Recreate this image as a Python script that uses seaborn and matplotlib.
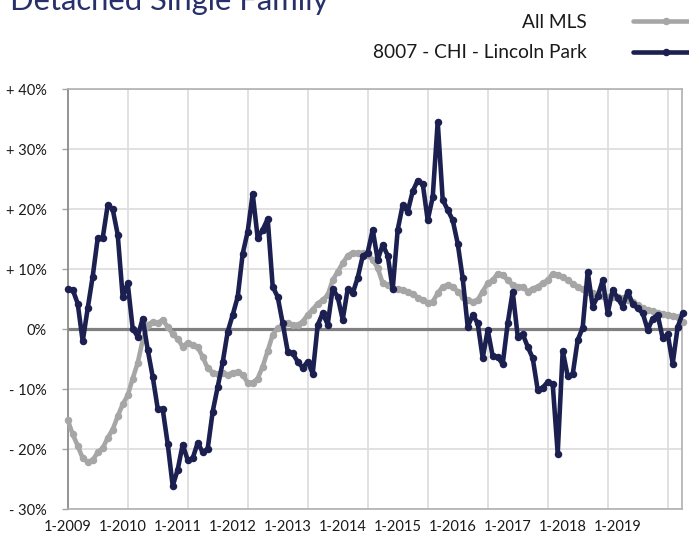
import numpy as np
import pandas as pd
import matplotlib
matplotlib.use("Agg")
import matplotlib.pyplot as plt
import seaborn as sns

# ---------------- data ----------------
title = "Detached Single Family"
series_names = ["All MLS", "8007 - CHI - Lincoln Park"]

all_mls = [
    -15.1, -17.5, -19.4, -21.5, -22.1, -21.8, -20.5, -19.8, -18.1, -16.7, -14.5, -12.5,
    -11.0, -8.2, -5.6, -1.8, 0.8, 1.2, 1.0, 1.6, 0.4, -0.8, -1.6, -2.9,
    -2.2, -2.6, -3.0, -4.6, -6.5, -7.2, -7.5, -7.3, -7.6, -7.2, -7.1, -7.6,
    -8.9, -8.9, -8.2, -6.2, -3.6, -0.9, 0.2, 0.7, 1.0, 0.7, 0.7, 1.3,
    2.4, 3.3, 4.3, 4.9, 5.7, 8.2, 9.6, 11.0, 12.3, 12.8, 12.7, 12.7,
    12.4, 11.6, 10.2, 7.7, 7.4, 6.8, 6.7, 6.6, 6.3, 5.9, 5.3, 4.9,
    4.4, 4.6, 6.0, 7.1, 7.4, 7.1, 6.3, 5.4, 4.9, 4.6, 4.9, 6.3,
    7.7, 8.2, 9.3, 9.1, 8.2, 7.4, 7.1, 7.1, 6.3, 6.8, 7.1, 7.7,
    8.2, 9.3, 9.1, 8.7, 8.2, 7.6, 7.1, 6.7, 6.3, 6.0, 5.7, 5.5,
    5.4, 5.4, 5.4, 5.2, 4.9, 4.5, 4.1, 3.6, 3.2, 3.0, 2.7, 2.6,
    2.4, 2.3, 2.1, 1.2,
]

lincoln_park = [
    6.7, 6.6, 4.3, -2.0, 3.5, 8.8, 15.2, 15.2, 20.7, 20.0, 15.8, 5.4,
    7.7, 0.1, -1.2, 1.8, -3.4, -7.9, -13.2, -13.3, -19.1, -26.1, -23.4, -19.2,
    -21.8, -21.5, -18.9, -20.5, -19.9, -13.7, -9.6, -5.5, -0.4, 2.4, 5.4, 12.6,
    16.3, 22.6, 15.2, 16.6, 18.4, 7.1, 5.4, 1.0, -3.7, -4.0, -5.4, -6.4,
    -5.4, -7.4, 0.7, 2.7, 0.8, 6.8, 5.4, 1.6, 6.7, 6.0, 8.6, 12.2,
    12.8, 16.6, 11.6, 14.1, 12.3, 6.7, 16.6, 20.7, 19.6, 23.0, 24.8, 24.3,
    18.2, 22.0, 34.6, 21.6, 19.9, 18.2, 14.3, 8.5, 0.4, 2.4, 1.0, -4.8,
    -0.1, -4.5, -4.6, -5.8, 1.0, 6.3, -1.2, -0.8, -2.9, -4.8, -10.1, -9.7,
    -8.8, -9.1, -20.7, -3.6, -7.8, -7.5, -1.8, 0.3, 9.6, 3.8, 5.5, 8.2,
    2.7, 6.6, 5.2, 3.8, 6.3, 4.2, 3.5, 2.7, -0.1, 1.8, 2.4, -1.5,
    -0.8, -5.7, 0.4, 2.7,
]

xtick_labels = ["1-2009", "1-2010", "1-2011", "1-2012", "1-2013", "1-2014",
                "1-2015", "1-2016", "1-2017", "1-2018", "1-2019"]
ytick_values = [-30, -20, -10, 0, 10, 20, 30, 40]
ytick_labels = ["- 30%", "- 20%", "- 10%", "0%", "+ 10%", "+ 20%", "+ 30%", "+ 40%"]

# ---------------- table ----------------
n = len(all_mls)
months = np.arange(n)
df = pd.DataFrame({
    "month": np.concatenate([months, months]),
    "value": all_mls + lincoln_park,
    "series": [series_names[0]] * n + [series_names[1]] * n,
})

# ---------------- style ----------------
sns.set_theme(style="white")
plt.rcParams["font.family"] = ["Lato", "DejaVu Sans"]

GRAY = "#a6a6a6"
NAVY = "#1b2050"
TEXT = "#1a1a1a"

fig = plt.figure(figsize=(6.89, 5.38), dpi=100)
ax = fig.add_axes([67.7 / 689, 28.7 / 538, 614 / 689, 420 / 538])

sns.lineplot(
    data=df, x="month", y="value", hue="series",
    hue_order=series_names,
    palette={series_names[0]: GRAY, series_names[1]: NAVY},
    marker="o", markersize=5.4, markeredgewidth=0,
    linewidth=3.3, legend=False, sort=False, ax=ax, zorder=3,
)
handles = list(ax.lines[:2])
for ln in handles:
    ln.set_clip_on(False)

ax.axhline(0, color="#808080", lw=2.3, zorder=2)

ax.set_xlim(0, 122.8)
ax.set_ylim(-30, 40)

# gridlines every 12 months, labels spaced as in the reference
ax.xaxis.remove_overlapping_locs = False
ax.set_xticks(np.arange(0, 121, 12))
ax.set_xticklabels([])
ax.set_xticks([11 * k for k in range(len(xtick_labels))], minor=True)
ax.set_xticklabels(xtick_labels, minor=True)
ax.tick_params(axis="x", which="both", length=0)
ax.tick_params(axis="x", which="minor", pad=8, labelsize=10.5, labelcolor=TEXT)

ax.set_yticks(ytick_values)
ax.set_yticklabels(ytick_labels)
ax.tick_params(axis="y", which="major", left=True, length=4, width=1.0,
               color="#a6a6a6", pad=11, labelsize=10.5, labelcolor=TEXT)

ax.grid(which="major", color="#dcdcdc", lw=1.2, zorder=0)
ax.set_axisbelow(True)
ax.set_xlabel("")
ax.set_ylabel("")

for side in ["top", "right", "bottom"]:
    ax.spines[side].set_color("#b0b0b0")
    ax.spines[side].set_linewidth(1.2)
ax.spines["left"].set_color("#8c8c8c")
ax.spines["left"].set_linewidth(1.3)

# title (partially cut at the top, like the reference)
fig.text(10 / 689, 1 - 10 / 538, title, fontsize=22.3, color="#27306a",
         ha="left", va="baseline")

leg = fig.legend(
    handles, series_names,
    loc="upper right", bbox_to_anchor=(700 / 689, 1 - 14 / 538),
    bbox_transform=fig.transFigure,
    frameon=False, markerfirst=False, alignment="right",
    handlelength=3.5, handletextpad=2.4, labelspacing=0.7,
    borderpad=0, borderaxespad=0, fontsize=13.8,
)
for t in leg.get_texts():
    t.set_color(TEXT)

fig.savefig("out.png", dpi=100)
